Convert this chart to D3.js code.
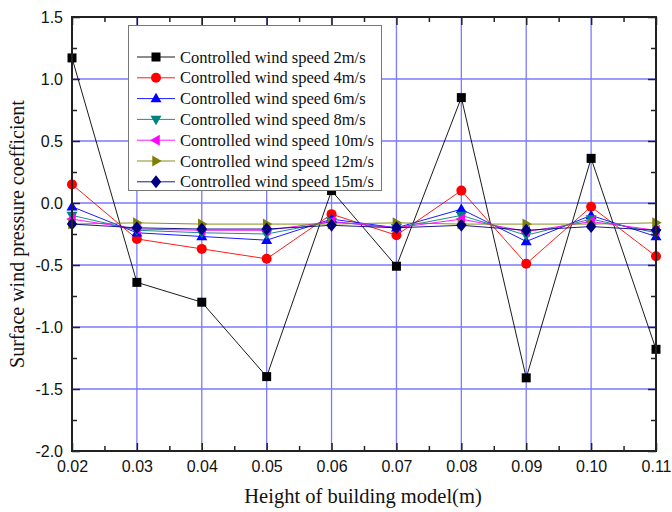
<!DOCTYPE html>
<html>
<head>
<meta charset="utf-8">
<script src="https://cdn.jsdelivr.net/npm/d3@7"></script>
<style>
  html, body { margin: 0; padding: 0; background: #fff; }
  svg { display: block; }
</style>
</head>
<body>
<svg id="chart" width="672" height="512"></svg>
<script>
// Model heights (m) along the x axis
const heights = [0.02, 0.03, 0.04, 0.05, 0.06, 0.07, 0.08, 0.09, 0.10, 0.11];

// Surface wind pressure coefficient for each controlled wind speed
const speeds = ["2m/s", "4m/s", "6m/s", "8m/s", "10m/s", "12m/s", "15m/s"];
const cp2  = [1.17, -0.64, -0.80, -1.40, 0.10, -0.51, 0.85, -1.41, 0.36, -1.18];
const cp4  = [0.15, -0.29, -0.37, -0.45, -0.09, -0.26, 0.10, -0.49, -0.03, -0.43];
const cp6  = [-0.03, -0.24, -0.27, -0.30, -0.13, -0.20, -0.05, -0.31, -0.10, -0.27];
const cp8  = [-0.10, -0.22, -0.24, -0.25, -0.15, -0.20, -0.10, -0.26, -0.13, -0.24];
const cp10 = [-0.13, -0.21, -0.22, -0.22, -0.15, -0.20, -0.13, -0.23, -0.15, -0.22];
const cp12 = [-0.17, -0.16, -0.17, -0.17, -0.17, -0.16, -0.17, -0.17, -0.17, -0.16];
const cp15 = [-0.17, -0.20, -0.21, -0.21, -0.18, -0.20, -0.18, -0.22, -0.19, -0.22];

// Axis tick values and labels
const xTicks = [0.02, 0.03, 0.04, 0.05, 0.06, 0.07, 0.08, 0.09, 0.10, 0.11];
const xTickLabels = ["0.02", "0.03", "0.04", "0.05", "0.06", "0.07", "0.08", "0.09", "0.10", "0.11"];
const yTicks = [-2.0, -1.5, -1.0, -0.5, 0.0, 0.5, 1.0, 1.5];
const yTickLabels = ["-2.0", "-1.5", "-1.0", "-0.5", "0.0", "0.5", "1.0", "1.5"];
const xMinor = [0.025, 0.035, 0.045, 0.055, 0.065, 0.075, 0.085, 0.095, 0.105];
const yMinor = [-1.75, -1.25, -0.75, -0.25, 0.25, 0.75, 1.25];

const seriesValues = [cp2, cp4, cp6, cp8, cp10, cp12, cp15];
const colors = ["#000000", "#ff0000", "#0000ff", "#008080", "#ff00ff", "#808000", "#000080"];
const shapes = ["square", "circle", "up", "down", "left", "right", "diamond"];

const series = speeds.map((s, i) => ({
  name: "Controlled wind speed " + s,
  color: colors[i],
  shape: shapes[i],
  values: heights.map((h, j) => ({ x: h, y: seriesValues[i][j] }))
}));

const svg = d3.select("#chart");
const plot = { left: 72, right: 656, top: 17, bottom: 451 };

const x = d3.scaleLinear().domain([0.02, 0.11]).range([plot.left, plot.right]);
const y = d3.scaleLinear().domain([-2.0, 1.5]).range([plot.bottom, plot.top]);

// Grid lines at the major ticks
const grid = svg.append("g").attr("stroke", "#7a7aff").attr("stroke-width", 1.3);
grid.selectAll("line.gx").data(xTicks.slice(1, -1)).join("line")
  .attr("x1", d => x(d)).attr("x2", d => x(d))
  .attr("y1", plot.top).attr("y2", plot.bottom);
grid.selectAll("line.gy").data(yTicks.slice(1, -1)).join("line")
  .attr("y1", d => y(d)).attr("y2", d => y(d))
  .attr("x1", plot.left).attr("x2", plot.right);

// Marker path generator
function markerPath(shape, r) {
  switch (shape) {
    case "square": return `M${-r},${-r}H${r}V${r}H${-r}Z`;
    case "circle": return d3.symbol(d3.symbolCircle, Math.PI * r * r)();
    case "up": return `M0,${-r * 1.15}L${r * 1.1},${r * 0.75}L${-r * 1.1},${r * 0.75}Z`;
    case "down": return `M0,${r * 1.15}L${r * 1.1},${-r * 0.75}L${-r * 1.1},${-r * 0.75}Z`;
    case "left": return `M${-r * 1.15},0L${r * 0.75},${-r * 1.1}L${r * 0.75},${r * 1.1}Z`;
    case "right": return `M${r * 1.15},0L${-r * 0.75},${-r * 1.1}L${-r * 0.75},${r * 1.1}Z`;
    case "diamond": return `M0,${-r * 1.3}L${r * 1.05},0L0,${r * 1.3}L${-r * 1.05},0Z`;
  }
}
const markerSize = { square: 4.5, circle: 5, up: 5, down: 5, left: 5, right: 5, diamond: 5 };

const line = d3.line().x(d => x(d.x)).y(d => y(d.y));

const data = svg.append("g");
series.forEach(s => {
  data.append("path").datum(s.values)
    .attr("fill", "none").attr("stroke", s.color).attr("stroke-width", 0.9)
    .attr("d", line);
});
series.forEach(s => {
  data.append("g").selectAll("path").data(s.values).join("path")
    .attr("transform", d => `translate(${x(d.x)},${y(d.y)})`)
    .attr("d", markerPath(s.shape, markerSize[s.shape]))
    .attr("fill", s.color);
});

// Axes with inward ticks
const fmtX = (d) => xTickLabels[xTicks.indexOf(d)];
const fmtY = (d) => yTickLabels[yTicks.indexOf(d)];
const axisColor = "#222";

function styleAxis(g) {
  g.select(".domain").remove();
  g.selectAll(".tick line").attr("stroke", axisColor).attr("stroke-width", 1.5);
  g.selectAll("text").attr("font-family", "Liberation Sans, Arial, sans-serif").attr("font-size", 16).attr("fill", "#111");
}

svg.append("g").attr("transform", `translate(0,${plot.bottom})`)
  .call(d3.axisBottom(x).tickValues(xTicks).tickFormat(fmtX).tickSize(-8).tickPadding(10))
  .call(styleAxis);
svg.append("g").attr("transform", `translate(0,${plot.bottom})`)
  .call(d3.axisBottom(x).tickValues(xMinor).tickFormat("").tickSize(-5))
  .call(styleAxis);
svg.append("g").attr("transform", `translate(0,${plot.top})`)
  .call(d3.axisTop(x).tickValues(xTicks).tickFormat("").tickSize(-8))
  .call(styleAxis);
svg.append("g").attr("transform", `translate(0,${plot.top})`)
  .call(d3.axisTop(x).tickValues(xMinor).tickFormat("").tickSize(-5))
  .call(styleAxis);
svg.append("g").attr("transform", `translate(${plot.left},0)`)
  .call(d3.axisLeft(y).tickValues(yTicks).tickFormat(fmtY).tickSize(-8).tickPadding(9))
  .call(styleAxis);
svg.append("g").attr("transform", `translate(${plot.left},0)`)
  .call(d3.axisLeft(y).tickValues(yMinor).tickFormat("").tickSize(-5))
  .call(styleAxis);
svg.append("g").attr("transform", `translate(${plot.right},0)`)
  .call(d3.axisRight(y).tickValues(yTicks).tickFormat("").tickSize(-8))
  .call(styleAxis);
svg.append("g").attr("transform", `translate(${plot.right},0)`)
  .call(d3.axisRight(y).tickValues(yMinor).tickFormat("").tickSize(-5))
  .call(styleAxis);

// Plot frame
svg.append("rect")
  .attr("x", plot.left).attr("y", plot.top)
  .attr("width", plot.right - plot.left).attr("height", plot.bottom - plot.top)
  .attr("fill", "none").attr("stroke", axisColor).attr("stroke-width", 2);

// Axis titles
svg.append("text")
  .attr("x", (plot.left + plot.right) / 2 - 1).attr("y", 503)
  .attr("text-anchor", "middle")
  .attr("font-family", "Liberation Serif, Times New Roman, serif").attr("font-size", 20.5)
  .attr("fill", "#111")
  .text("Height of building model(m)");
svg.append("text")
  .attr("transform", `translate(24,${(plot.top + plot.bottom) / 2}) rotate(-90)`)
  .attr("text-anchor", "middle")
  .attr("font-family", "Liberation Serif, Times New Roman, serif").attr("font-size", 20)
  .attr("fill", "#111")
  .text("Surface wind pressure coefficient");

// Legend
const legend = svg.append("g");
const lg = { x: 128, y: 25, w: 253, h: 165, row: 20.8, first: 57 };
legend.append("rect")
  .attr("x", lg.x + 0.5).attr("y", lg.y + 0.5).attr("width", lg.w).attr("height", lg.h)
  .attr("fill", "#fff").attr("stroke", "#777").attr("stroke-width", 1);
series.forEach((s, i) => {
  const cy = lg.first + i * lg.row;
  legend.append("line")
    .attr("x1", 137).attr("x2", 175).attr("y1", cy).attr("y2", cy)
    .attr("stroke", s.color).attr("stroke-width", 0.9);
  legend.append("path")
    .attr("transform", `translate(156,${cy})`)
    .attr("d", markerPath(s.shape, markerSize[s.shape]))
    .attr("fill", s.color);
  legend.append("text")
    .attr("x", 180).attr("y", cy + 5.5)
    .attr("font-family", "Liberation Serif, Times New Roman, serif").attr("font-size", 16.5)
    .attr("fill", "#111")
    .text(s.name);
});
</script>
</body>
</html>
